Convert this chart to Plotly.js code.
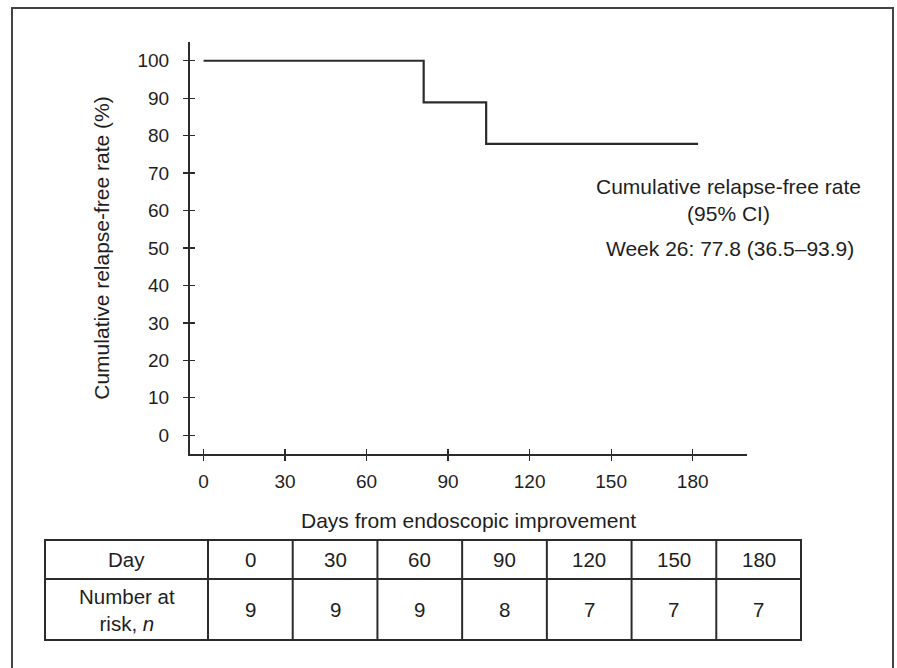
<!DOCTYPE html>
<html><head><meta charset="utf-8">
<script src="https://cdn.plot.ly/plotly-3.0.1.min.js"></script>
<style>html,body{margin:0;padding:0;background:#fff}</style>
</head><body>
<div id="chart" style="width:897px;height:668px"></div>
<script>
// ---- data ----
const days = [0, 81, 104, 182];
const relapseFree = [100, 88.9, 77.8, 77.8];
const xTicks = [0, 30, 60, 90, 120, 150, 180];
const yTicks = [0, 10, 20, 30, 40, 50, 60, 70, 80, 90, 100];
const tableDays = [0, 30, 60, 90, 120, 150, 180];
const atRisk = [9, 9, 9, 8, 7, 7, 7];
const rowLabels = ["Day", "Number at<br>risk, <i>n</i>"];
const statTitle = "Cumulative relapse-free rate<br>(95% CI)";
const statText = "Week 26: 77.8 (36.5–93.9)";

// ---- layout helpers (pixel -> paper) ----
const W = 897, H = 668;
const M = {l: 190, r: 150, t: 42, b: 214};
const PW = W - M.l - M.r, PH = H - M.t - M.b;
const px = x => (x - M.l) / PW;
const py = y => (H - M.b - y) / PH;

const FONT = "Liberation Sans, Arial, sans-serif";
const TXT = "#1e1e1e";
const LINE = "#2b2b2b";

const shapes = [];
const annotations = [];

// outer frame
shapes.push({type: "rect", xref: "paper", yref: "paper",
  x0: px(12), x1: px(893), y0: py(8), y1: py(700),
  line: {color: "#444", width: 2}, layer: "below"});

// table geometry
const tL = 45, tR = 801, tTop = 540, tMid = 579, tBot = 640, firstCol = 208;
const colW = (tR - firstCol) / tableDays.length;
const lw = 2;
shapes.push({type: "rect", xref: "paper", yref: "paper", x0: px(tL), x1: px(tR), y0: py(tTop), y1: py(tBot), line: {color: LINE, width: lw}});
shapes.push({type: "line", xref: "paper", yref: "paper", x0: px(tL), x1: px(tR), y0: py(tMid), y1: py(tMid), line: {color: LINE, width: lw}});
for (let i = 0; i < tableDays.length; i++) {
  const xl = firstCol + i * colW;
  shapes.push({type: "line", xref: "paper", yref: "paper", x0: px(xl), x1: px(xl), y0: py(tTop), y1: py(tBot), line: {color: LINE, width: lw}});
}
const tf = {family: FONT, size: 20.5, color: TXT};
annotations.push({xref: "paper", yref: "paper", x: px((tL + firstCol) / 2), y: py((tTop + tMid) / 2), text: rowLabels[0], showarrow: false, font: tf, xanchor: "center", yanchor: "middle"});
annotations.push({xref: "paper", yref: "paper", x: px((tL + firstCol) / 2), y: py((tMid + tBot) / 2), text: rowLabels[1], showarrow: false, font: tf, xanchor: "center", yanchor: "middle"});
tableDays.forEach((d, i) => {
  const cx = firstCol + (i + 0.5) * colW;
  annotations.push({xref: "paper", yref: "paper", x: px(cx), y: py((tTop + tMid) / 2), text: String(d), showarrow: false, font: tf, xanchor: "center", yanchor: "middle"});
  annotations.push({xref: "paper", yref: "paper", x: px(cx), y: py((tMid + tBot) / 2), text: String(atRisk[i]), showarrow: false, font: tf, xanchor: "center", yanchor: "middle"});
});

// stat box text
annotations.push({xref: "paper", yref: "paper", x: px(728), y: py(200), text: statTitle, showarrow: false, font: {family: FONT, size: 21, color: TXT}, xanchor: "center", yanchor: "middle"});
annotations.push({xref: "paper", yref: "paper", x: px(730), y: py(248), text: statText, showarrow: false, font: {family: FONT, size: 21, color: TXT}, xanchor: "center", yanchor: "middle"});

const traces = [
  {x: days, y: relapseFree, type: "scatter", mode: "lines", line: {shape: "hv", color: LINE, width: 2.2}, hoverinfo: "x+y", showlegend: false},
  {x: [null], y: [null], xaxis: "x2", yaxis: "y2", type: "scatter", mode: "lines", showlegend: false, hoverinfo: "skip"}
];

const axCommon = {
  showgrid: false, zeroline: false, showline: true, linecolor: LINE, linewidth: 2,
  ticks: "outside", ticklen: 5, tickwidth: 1.3, tickcolor: LINE,
  tickfont: {family: FONT, size: 19, color: TXT}, automargin: false, fixedrange: true
};

const layout = {
  width: W, height: H,
  margin: M,
  paper_bgcolor: "#fff", plot_bgcolor: "#fff",
  showlegend: false,
  xaxis: Object.assign({}, axCommon, {
    range: [-5, 200], tickmode: "array", tickvals: xTicks, ticktext: xTicks.map(String),
    ticklabelstandoff: 4,
    title: {text: "Days from endoscopic improvement", font: {family: FONT, size: 21, color: TXT}, standoff: 23}
  }),
  yaxis: Object.assign({}, axCommon, {
    range: [-5, 105], tickmode: "array", tickvals: yTicks, ticktext: yTicks.map(String),
    ticklabelstandoff: 10,
    title: {text: "Cumulative relapse-free rate (%)", font: {family: FONT, size: 21, color: TXT}, standoff: 22}
  }),
  xaxis2: {overlaying: "x", anchor: "y", range: [-5, 200], tickmode: "array", tickvals: xTicks,
    ticks: "inside", ticklen: 5, tickwidth: 1.3, tickcolor: LINE, showticklabels: false,
    showline: false, showgrid: false, zeroline: false, fixedrange: true},
  yaxis2: {overlaying: "y", anchor: "x", side: "left", range: [-5, 105], tickmode: "array", tickvals: yTicks,
    ticks: "inside", ticklen: 5, tickwidth: 1.3, tickcolor: LINE, showticklabels: false,
    showline: false, showgrid: false, zeroline: false, fixedrange: true},
  shapes: shapes,
  annotations: annotations
};

Plotly.newPlot("chart", traces, layout, {displayModeBar: false, staticPlot: true});
</script>
</body></html>
